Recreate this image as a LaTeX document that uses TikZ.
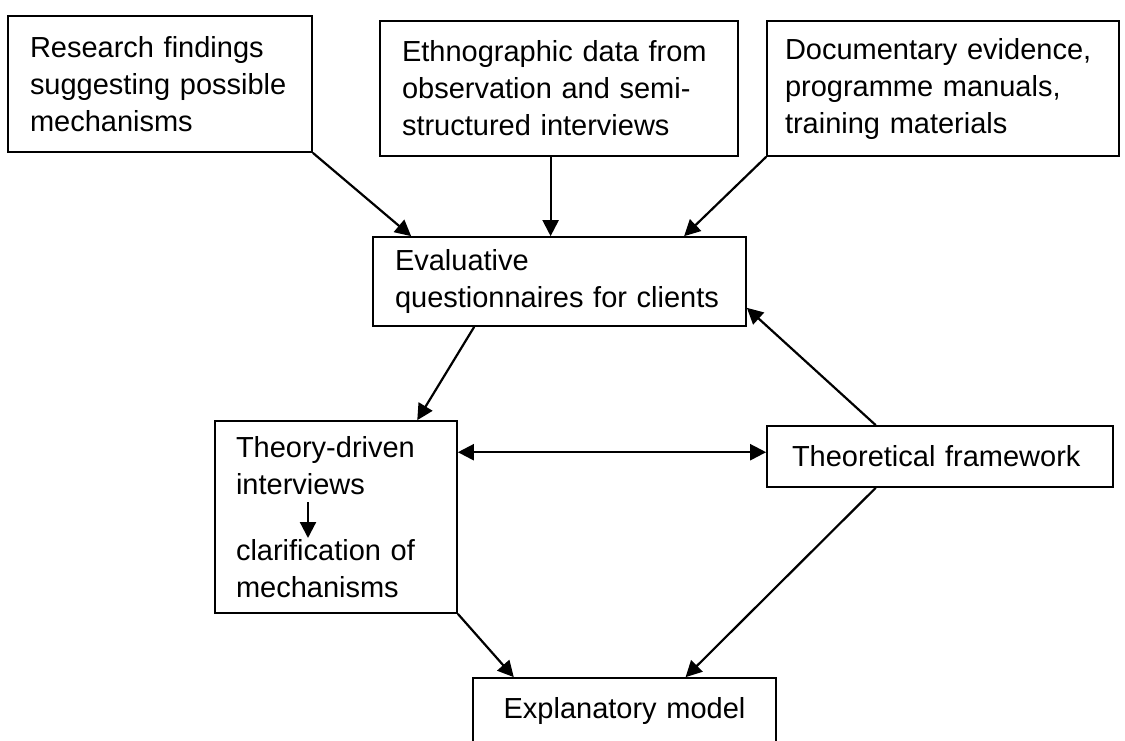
\documentclass[tikz,border=0pt]{standalone}
\usepackage{fontspec}
\setmainfont{Liberation Sans}
\usetikzlibrary{arrows.meta}

\tikzset{
  procbox/.style={draw, line width=1.7pt, align=left, inner xsep=22pt, inner ysep=0pt,
    font=\fontsize{29}{37}\selectfont},
  flow/.style={line width=2.2pt, -{Triangle[length=16pt,width=16pt]}},
  twoway/.style={line width=2.2pt, {Triangle[length=16pt,width=16pt]}-{Triangle[length=16pt,width=16pt]}},
}

\begin{document}
\begin{tikzpicture}[x=1pt,y=1pt,yscale=-1,xscale=1]
\useasboundingbox (0,0) rectangle (1125,740);
\clip (0,0) rectangle (1125,740);

%Sources
\node[procbox, text width=260pt, minimum height=136pt] (find) at (160,84)
  {Research findings\\suggesting possible\\mechanisms};
\node[procbox, text width=314pt, minimum height=135pt] (ethno) at (559,88.5)
  {Ethnographic data from\\observation and semi-\\structured interviews};
\node[procbox, inner xsep=18pt, text width=316pt, minimum height=135pt] (docu) at (943,88.5)
  {Documentary evidence,\\programme manuals,\\training materials};

%Middle
\node[procbox, text width=329pt, minimum height=89pt] (evq) at (559.5,281.5)
  {Evaluative\\questionnaires for clients};
\node[procbox, inner xsep=21pt, text width=200pt, minimum height=192pt] (tdi) at (336,517)
  {Theory-driven\\interviews\\[29pt]clarification of\\mechanisms};
\node[procbox, inner xsep=25pt, text width=296pt, minimum height=61pt] (theo) at (940,456.5)
  {Theoretical framework};

%Result (runs off the bottom)
\node[procbox, align=center, text width=259pt, minimum height=66pt] (expl) at (624.5,711)
  {Explanatory model};

%inner step of the interviews
\coordinate (tdiA) at (308,502);
\coordinate (tdiB) at (308,538);

%Connectors
\draw[flow] (find.south east) -- (evq.163);
\draw[flow] (ethno.263) -- (ethno.263 |- evq.north);
\draw[flow] (docu.south west) -- (evq.20);
\draw[flow] (evq.208) -- (tdi.50);
\draw[flow] (theo.154) -- (evq.-8);
\draw[twoway] (tdi.28) -- (tdi.28 -| theo.west);
\draw[flow] (tdiA) -- (tdiB);
\draw[flow] (tdi.south east) -- (expl.163);
\draw[flow] (theo.206) -- (expl.29);

\end{tikzpicture}
\end{document}
